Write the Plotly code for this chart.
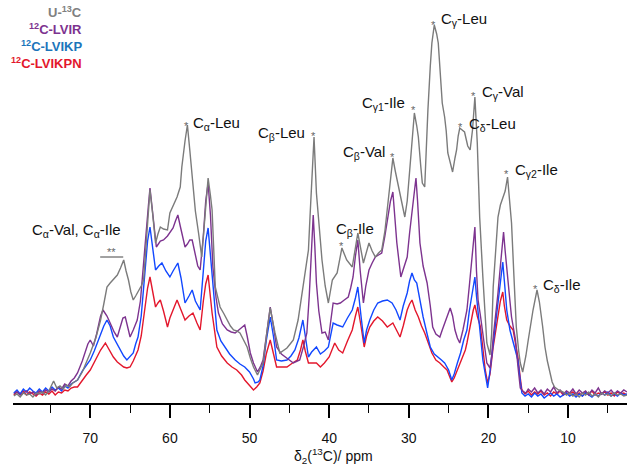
import plotly.graph_objects as go

# ---------------- data (ppm, intensity) ----------------
gray_ppm = [79.6, 79.2, 78.8, 78.4, 78.0, 77.6, 77.2, 76.8, 76.4, 76.0, 75.6, 75.2, 74.6, 74.2, 73.8, 73.4, 73.0, 72.6, 72.2,
            71.6, 71.0, 70.5, 70.0, 69.3, 68.7, 68.3, 67.9, 67.5, 67.0, 66.6, 66.2, 65.8, 65.5, 65.2, 64.9, 64.6, 64.3, 64.0,
            63.6, 63.3, 63.0, 62.7, 62.5, 62.2, 61.8, 61.5, 61.2, 60.8, 60.3, 60.0, 59.6, 59.1, 58.7, 58.5, 58.1, 57.8, 57.5,
            57.1, 56.8, 56.4, 56.0, 55.6, 55.2, 54.9, 54.7, 54.3, 53.7, 53.2, 52.8, 52.4, 52.0, 51.6, 51.2, 50.8, 50.3, 49.9,
            49.5, 49.0, 48.6, 48.3, 47.8, 47.4, 47.1, 46.8, 46.2, 45.7, 45.3, 44.9, 44.5, 43.9, 43.3, 42.6, 42.4, 42.2, 41.9,
            41.6, 41.3, 40.9, 40.5, 40.1, 39.6, 39.0, 38.4, 37.8, 37.1, 36.4, 35.7, 35.0, 34.6, 34.2, 33.8, 33.4, 33.0, 32.7,
            32.2, 32.0, 31.7, 31.4, 30.9, 30.5, 30.2, 30.0, 29.6, 29.3, 29.0, 28.8, 28.5, 28.3, 28.0, 27.8, 27.6, 27.3, 27.1,
            26.8, 26.5, 26.3, 26.0, 25.8, 25.5, 25.3, 25.1, 24.8, 24.5, 24.2, 24.0, 23.8, 23.6, 23.3, 23.0, 22.6, 22.3, 22.0,
            21.7, 21.4, 21.1, 20.7, 20.4, 20.2, 19.8, 19.6, 19.4, 19.1, 18.8, 18.5, 18.2, 17.9, 17.6, 17.3, 17.1, 16.8, 16.5,
            16.2, 16.0, 15.7, 15.3, 15.0, 14.7, 14.4, 13.9, 13.6, 13.2, 12.9, 12.6, 12.3, 12.0, 11.7, 11.2, 10.6, 10.2, 9.8,
            9.4, 9.0, 8.6, 8.2, 7.8, 7.4, 7.0, 6.6, 6.2, 5.8, 5.4, 5.0, 4.6, 4.2, 3.8, 3.4, 3.0, 2.6]
gray_int = [0, 2, -1, 3, 1, 2, -1, 3, 2, 4, 1, 5, 15, 8, 10, 7, 11, 9, 13,
            16, 24, 33, 43, 58, 76, 92, 109, 113, 118, 121, 128, 136, 125, 116, 104, 96, 100, 104,
            110, 116, 150, 185, 206, 185, 153, 162, 169, 167, 166, 183, 190, 199, 209, 229, 255, 271, 246,
            209, 185, 163, 139, 179, 218, 200, 186, 109, 89, 82, 76, 70, 66, 65, 63, 57, 49, 38,
            29, 21, 27, 33, 65, 88, 75, 63, 43, 46, 48, 52, 56, 76, 109, 146, 180, 213, 259,
            203, 170, 136, 110, 93, 116, 123, 148, 136, 129, 163, 133, 153, 145, 139, 143, 146, 165, 186,
            219, 238, 225, 213, 192, 179, 195, 213, 250, 283, 270, 259, 230, 213, 209, 250, 286, 330, 353,
            371, 362, 353, 320, 293, 279, 265, 243, 232, 224, 238, 246, 260, 268, 266, 264, 250, 246, 266,
            299, 253, 179, 119, 75, 53, 41, 62, 109, 150, 179, 191, 199, 205, 219, 195, 173, 120, 69,
            45, 33, 24, 40, 56, 72, 86, 106, 94, 70, 49, 35, 23, 14, 9, 6, 4, 1, 3,
            0, 2, -1, 3, 1, 4, 0, 2, -1, 3, 1, 2, 0, 3, 1, 2, 0, 1]

purple_ppm = [79.6, 79.2, 78.8, 78.4, 78.0, 77.6, 77.2, 76.8, 76.4, 76.0, 75.6, 75.2, 74.8, 74.4, 74.0, 73.6, 73.2, 72.8,
              72.4, 72.0, 71.6, 71.0, 70.3, 70.0, 69.6, 69.2, 68.7, 68.4, 67.9, 67.5, 67.0, 66.6, 66.2, 65.9, 65.6, 65.3,
              65.0, 64.6, 64.1, 63.7, 63.3, 63.0, 62.7, 62.5, 62.2, 61.9, 61.7, 61.2, 60.8, 60.3, 60.0, 59.6, 59.3, 59.0,
              58.7, 58.4, 58.1, 57.8, 57.5, 57.2, 56.8, 56.5, 56.2, 55.8, 55.5, 55.2, 54.9, 54.6, 54.2, 53.9, 53.4, 52.8,
              52.3, 51.8, 51.2, 50.6, 50.3, 49.9, 49.5, 49.0, 48.6, 48.3, 47.8, 47.4, 47.0, 46.6, 46.0, 45.5, 45.0, 44.5,
              44.0, 43.7, 43.2, 42.8, 42.5, 42.3, 42.0, 41.8, 41.6, 41.3, 40.9, 40.5, 40.1, 39.8, 39.5, 39.0, 38.6, 38.1,
              37.6, 37.3, 37.0, 36.7, 36.4, 36.1, 35.7, 35.4, 35.0, 34.6, 34.2, 33.8, 33.4, 33.0, 32.6, 32.3, 32.0, 31.7,
              31.5, 31.0, 30.6, 30.2, 29.9, 29.6, 29.3, 29.1, 28.9, 28.6, 28.2, 27.7, 27.3, 27.0, 26.6, 26.1, 25.8, 25.5,
              25.1, 24.8, 24.5, 24.2, 23.9, 23.6, 23.2, 22.7, 22.4, 22.1, 21.9, 21.7, 21.5, 21.3, 21.0, 20.7, 20.4, 20.2,
              19.8, 19.6, 19.4, 19.1, 18.8, 18.5, 18.1, 17.9, 17.6, 17.3, 17.1, 16.8, 16.6, 16.3, 16.0, 15.7, 15.3, 15.0,
              14.6, 14.2, 13.8, 13.4, 13.0, 12.6, 12.2, 11.8, 11.4, 11.0, 10.6, 10.2, 9.8, 9.4, 9.0, 8.6, 8.2, 7.8, 7.4,
              7.0, 6.6, 6.2, 5.8, 5.4, 5.0, 4.6, 4.2, 3.8, 3.4, 3.0, 2.6]
purple_int = [2, 4, 1, 3, 5, 2, 4, 1, 5, 3, 6, 4, 7, 5, 9, 7, 12, 10,
              15, 18, 23, 35, 52, 56, 50, 62, 80, 86, 80, 73, 64, 59, 70, 78, 79, 68,
              59, 66, 76, 95, 136, 165, 190, 208, 185, 160, 149, 155, 156, 160, 163, 168, 175, 181,
              170, 160, 149, 152, 156, 156, 140, 130, 126, 160, 195, 213, 180, 129, 98, 83, 72, 66,
              64, 63, 67, 71, 60, 43, 33, 24, 30, 36, 65, 89, 70, 49, 42, 39, 36, 33,
              35, 36, 50, 63, 100, 129, 181, 150, 113, 85, 63, 64, 56, 75, 93, 92, 93, 96,
              99, 108, 119, 140, 156, 125, 93, 110, 126, 133, 139, 141, 143, 160, 179, 195, 204, 175,
              153, 119, 130, 139, 163, 186, 208, 218, 195, 153, 130, 113, 90, 69, 62, 59, 66, 73,
              83, 88, 80, 66, 58, 53, 66, 86, 110, 133, 150, 169, 125, 96, 80, 63, 42, 33,
              28, 40, 59, 80, 103, 130, 164, 145, 116, 95, 79, 65, 56, 30, 8, 5, 3, 7,
              4, 8, 3, 6, 2, 7, 4, 9, 3, 6, 2, 5, 3, 7, 2, 6, 3, 5, 1,
              6, 3, 8, 2, 5, 3, 6, 2, 5, 3, 6, 4]

blue_ppm = [79.6, 79.2, 78.8, 78.4, 78.0, 77.6, 77.2, 76.8, 76.4, 76.0, 75.6, 75.2, 74.8, 74.4, 74.0, 73.6, 73.2, 72.8,
            72.4, 72.0, 71.6, 71.0, 70.5, 70.0, 69.5, 69.0, 68.7, 68.3, 67.9, 67.5, 67.1, 66.6, 66.2, 65.8, 65.4, 65.0,
            64.6, 64.3, 64.0, 63.6, 63.1, 62.8, 62.5, 62.2, 61.8, 61.4, 61.0, 60.5, 60.0, 59.6, 59.0, 58.6, 58.1, 57.6,
            57.2, 56.8, 56.2, 55.8, 55.5, 55.2, 55.0, 54.7, 54.4, 54.1, 53.6, 53.1, 52.5, 51.8, 51.2, 50.6, 50.0, 49.5,
            49.3, 48.9, 48.7, 48.3, 47.9, 47.4, 47.0, 46.6, 46.0, 45.3, 44.8, 44.3, 43.8, 43.3, 43.0, 42.6, 42.2, 41.6,
            41.1, 40.6, 40.1, 39.8, 39.5, 39.0, 38.3, 37.7, 37.1, 36.7, 36.4, 36.0, 35.6, 35.3, 34.9, 34.4, 33.9, 33.3,
            32.7, 32.1, 31.6, 31.1, 30.7, 30.2, 29.9, 29.6, 29.3, 29.0, 28.6, 28.2, 27.7, 27.3, 26.8, 26.3, 25.9, 25.5,
            25.0, 24.6, 24.3, 23.9, 23.5, 23.1, 22.7, 22.4, 22.1, 21.9, 21.7, 21.5, 21.3, 21.0, 20.7, 20.4, 20.1, 19.8,
            19.4, 19.1, 18.8, 18.5, 18.2, 18.0, 17.7, 17.3, 16.9, 16.6, 16.3, 16.0, 15.8, 15.4, 15.0, 14.6, 14.2, 13.8,
            13.4, 13.0, 12.6, 12.2, 11.8, 11.4, 11.0, 10.6, 10.2, 9.8, 9.4, 9.0, 8.6, 8.2, 7.8, 7.4, 7.0, 6.6, 6.2,
            5.8, 5.4, 5.0, 4.6, 4.2, 3.8, 3.4, 3.0, 2.6]
blue_int = [3, 6, 2, 7, 4, 8, 5, 3, 7, 4, 8, 5, 9, 6, 8, 5, 10, 8,
            12, 14, 16, 25, 31, 36, 45, 55, 63, 70, 76, 70, 59, 52, 46, 40, 36, 40,
            43, 52, 59, 80, 126, 155, 169, 150, 126, 130, 133, 125, 119, 125, 133, 118, 93, 100,
            106, 95, 86, 125, 155, 168, 150, 123, 90, 66, 55, 49, 42, 36, 32, 29, 24, 17,
            13, 14, 16, 30, 55, 79, 60, 36, 35, 36, 40, 46, 58, 76, 60, 39, 44, 49,
            42, 45, 49, 62, 73, 71, 69, 78, 86, 98, 109, 80, 53, 66, 76, 86, 93, 95,
            96, 93, 86, 76, 90, 103, 115, 123, 116, 113, 95, 79, 62, 49, 42, 39, 36, 33,
            26, 16, 22, 33, 43, 56, 66, 85, 99, 110, 119, 100, 86, 60, 36, 20, 8, 25,
            53, 75, 93, 115, 134, 115, 86, 66, 53, 46, 36, 15, 3, 0, 2, -1, 3, 0,
            2, -2, 1, 3, 0, 2, -1, 1, 3, 0, 2, -1, 2, 0, 3, 1, -1, 2, 0,
            3, 1, 4, 0, 2, 0, 3, 1, 2]

red_ppm = [79.6, 79.2, 78.8, 78.4, 78.0, 77.6, 77.2, 76.8, 76.4, 76.0, 75.6, 75.2, 74.8, 74.4, 74.0, 73.6, 73.2, 72.8,
           72.4, 72.0, 71.6, 71.0, 70.5, 70.0, 69.5, 69.0, 68.7, 68.1, 67.6, 67.1, 66.6, 66.2, 65.8, 65.4, 65.0, 64.6,
           64.0, 63.6, 63.1, 62.8, 62.5, 62.2, 61.8, 61.5, 61.2, 60.8, 60.3, 60.0, 59.6, 59.1, 58.6, 58.1, 57.6, 57.1,
           56.6, 56.2, 55.8, 55.5, 55.2, 54.9, 54.7, 54.1, 53.5, 52.8, 52.2, 51.6, 51.0, 50.6, 50.0, 49.5, 49.1, 48.7,
           48.3, 47.9, 47.4, 47.0, 46.6, 46.0, 45.3, 44.6, 44.0, 43.6, 43.3, 43.0, 42.6, 42.1, 41.6, 41.1, 40.6, 40.0,
           39.6, 39.3, 38.8, 38.3, 37.7, 37.1, 36.7, 36.4, 36.0, 35.6, 35.3, 34.9, 34.4, 33.9, 33.3, 32.7, 32.0, 31.6,
           31.1, 30.7, 30.2, 29.9, 29.6, 29.2, 28.8, 28.4, 28.0, 27.5, 27.1, 26.6, 26.1, 25.6, 25.2, 24.9, 24.6, 24.3,
           23.9, 23.4, 22.9, 22.7, 22.4, 22.1, 21.9, 21.7, 21.4, 21.0, 20.7, 20.4, 20.1, 19.8, 19.4, 19.1, 18.8, 18.5,
           18.2, 18.0, 17.7, 17.3, 16.9, 16.6, 16.3, 16.0, 15.8, 15.4, 15.0, 14.6, 14.2, 13.8, 13.4, 13.0, 12.6, 12.2,
           11.8, 11.4, 11.0, 10.6, 10.2, 9.8, 9.4, 9.0, 8.6, 8.2, 7.8, 7.4, 7.0, 6.6, 6.2, 5.8, 5.4, 5.0, 4.6, 4.2,
           3.8, 3.4, 3.0, 2.6]
red_int = [1, 4, 2, 5, 1, 4, 2, 0, 3, 1, 4, 2, 5, 1, 4, 3, 6, 5,
           8, 9, 9, 16, 21, 26, 34, 41, 46, 53, 46, 39, 34, 31, 29, 28, 29, 35,
           46, 60, 89, 108, 119, 105, 89, 93, 96, 85, 69, 78, 86, 96, 86, 76, 80, 83,
           73, 66, 95, 112, 121, 100, 83, 49, 40, 33, 29, 26, 21, 16, 10, 6, 9, 13,
           25, 42, 56, 43, 29, 29, 29, 33, 36, 46, 56, 45, 33, 33, 33, 29, 33, 39,
           46, 53, 46, 43, 55, 66, 80, 89, 70, 49, 60, 69, 75, 79, 75, 69, 73, 66,
           59, 70, 86, 92, 96, 86, 79, 70, 63, 52, 43, 36, 33, 29, 26, 20, 14, 18,
           26, 36, 46, 53, 66, 79, 86, 91, 80, 69, 46, 26, 13, 22, 49, 63, 79, 95,
           104, 90, 76, 70, 66, 52, 39, 18, 6, 2, 5, 1, 4, 2, 5, 1, 3, 0,
           4, 2, 5, 1, 3, 2, 4, 1, 3, 0, 4, 2, 5, 1, 3, 2, 4, 1, 3, 0,
           4, 2, 3, 1]

series = [
    ("12C-LVIKPN", red_ppm, red_int, "#e3172c"),
    ("12C-LVIKP", blue_ppm, blue_int, "#1248ff"),
    ("12C-LVIR", purple_ppm, purple_int, "#7d338f"),
    ("U-13C", gray_ppm, gray_int, "#7b7b7b"),
]

legend_labels = ["U-<sup>13</sup>C", "<sup>12</sup>C-LVIR", "<sup>12</sup>C-LVIKP", "<sup>12</sup>C-LVIKPN"]
legend_colors = ["#808080", "#7d338f", "#1b75bb", "#e3172c"]

tick_vals = [70, 60, 50, 40, 30, 20, 10]

FONT = "Liberation Sans, Arial, Helvetica, sans-serif"
AXIS_PX = 403  # pixel row of the x-axis line
TOP_PX = 16
PLOT_H = AXIS_PX - TOP_PX

fig = go.Figure()
for name, xs, ys, col in series:
    fig.add_trace(go.Scatter(x=xs, y=ys, mode="lines", name=name,
                             line=dict(color=col, width=1.4), showlegend=False))

labels = [
    ("C<sub>α</sub>-Leu", 57.33, 273, "left"),
    ("C<sub>β</sub>-Leu", 42.77, 263, "right"),
    ("C<sub>β</sub>-Val", 32.74, 244, "right"),
    ("C<sub>γ1</sub>-Ile", 30.2, 293, "right"),
    ("C<sub>β</sub>-Ile", 36.75, 167, "center"),
    ("C<sub>γ</sub>-Leu", 26.2, 377, "left"),
    ("C<sub>γ</sub>-Val", 21.07, 304, "left"),
    ("C<sub>δ</sub>-Leu", 22.7, 272, "left"),
    ("C<sub>γ2</sub>-Ile", 16.93, 226, "left"),
    ("C<sub>δ</sub>-Ile", 13.41, 111, "left"),
    ("C<sub>α</sub>-Val, C<sub>α</sub>-Ile", 71.76, 166, "center"),
]
stars = [(57.95, 273), (42.0, 263), (32.0, 242), (29.35, 289), (38.4, 153), (26.96, 374),
         (21.82, 303), (23.45, 272), (17.68, 225), (14.04, 110)]

for txt, x, y, anc in labels:
    fig.add_annotation(x=x, y=y, xref="x", yref="y", text=txt, showarrow=False,
                       xanchor=anc, yanchor="middle",
                       font=dict(family=FONT, size=15, color="#111111"))
for x, y in stars:
    fig.add_annotation(x=x, y=y - 3, xref="x", yref="y", text="*", showarrow=False,
                       xanchor="center", yanchor="middle",
                       font=dict(family=FONT, size=11, color="#666666"))
fig.add_annotation(x=67.37, y=144, xref="x", yref="y", text="**", showarrow=False,
                   xanchor="center", yanchor="middle",
                   font=dict(family=FONT, size=11, color="#666666"))
fig.add_shape(type="line", x0=68.75, x1=65.86, y0=139, y1=139, xref="x", yref="y",
              line=dict(color="#444444", width=1))

leg_y = [12, 29, 46, 63]
for lab, col, py in zip(legend_labels, legend_colors, leg_y):
    fig.add_annotation(x=(84 - 13) / 614, y=(AXIS_PX - py) / PLOT_H, xref="paper", yref="paper",
                       text="<b>" + lab + "</b>", showarrow=False, xanchor="right", yanchor="middle",
                       font=dict(family=FONT, size=13, color=col))

fig.add_annotation(x=39.5, y=-(456 - AXIS_PX) / PLOT_H, xref="x", yref="paper",
                   text="δ<sub>2</sub>(<sup>13</sup>C)/ ppm", showarrow=False,
                   xanchor="center", yanchor="middle",
                   font=dict(family=FONT, size=14, color="#111111"))

fig.update_layout(
    width=629, height=465,
    margin=dict(l=13, r=2, t=TOP_PX, b=465 - AXIS_PX),
    paper_bgcolor="white", plot_bgcolor="white",
    xaxis=dict(range=[79.7, 2.6], showgrid=False, zeroline=False,
               showline=True, linecolor="black", linewidth=1.5,
               ticks="outside", ticklen=13, tickwidth=1.5, tickcolor="black",
               tickvals=tick_vals, ticktext=[str(v) for v in tick_vals],
               ticklabelstandoff=8,
               tickfont=dict(family=FONT, size=14, color="#111111"),
               minor=dict(ticks="outside", ticklen=8, tickwidth=1.3, tickcolor="black",
                          tickvals=[75, 65, 55, 45, 35, 25, 15, 5])),
    yaxis=dict(range=[-7, 380], visible=False),
)

fig.write_html("out.html",
               config={"displayModeBar": False},
               post_script="document.body.style.margin='0px';document.body.style.overflow='hidden';")
